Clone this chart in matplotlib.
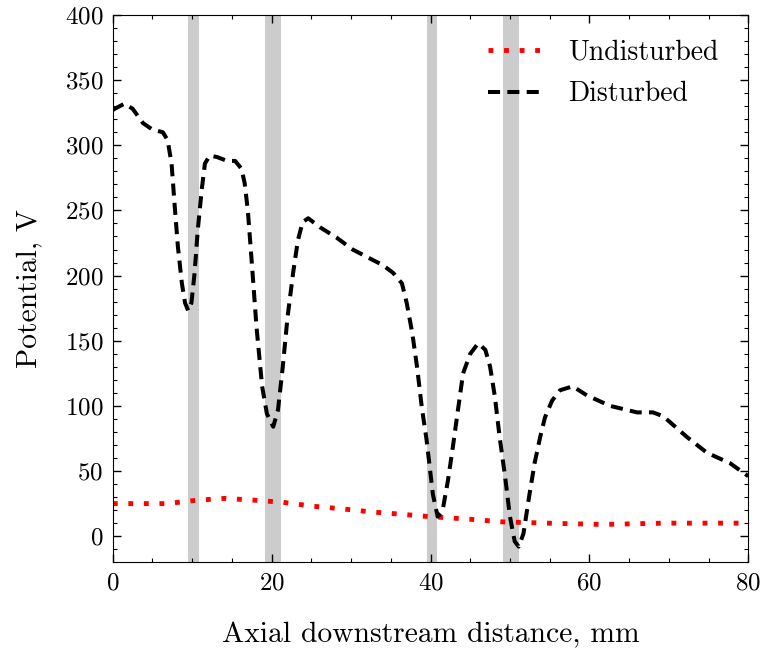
import numpy as np
import matplotlib.pyplot as plt
from matplotlib.ticker import MultipleLocator

plt.rcParams['font.family'] = 'cmr10'
plt.rcParams['mathtext.fontset'] = 'cm'
plt.rcParams['axes.formatter.use_mathtext'] = True

# disturbed potential profile
x_dist = [0, 0.25, 1.5, 2.5, 3.8, 5.0, 6.3, 6.9, 7.4, 7.8, 8.2, 8.7, 9.1, 9.5,
          9.9, 10.3, 10.7, 11.2, 11.6, 12.2, 13.1, 14.4, 15.4, 16.2, 16.6, 17.0,
          17.5, 18.1, 18.8, 19.4, 20.2, 20.8, 21.4, 22.0, 22.7, 23.3, 23.9, 24.6,
          26.1, 28.2, 30.2, 32.4, 34.0, 35.3, 36.4, 37.0, 37.7, 38.3, 38.9, 39.5,
          40.3, 40.9, 41.5, 42.2, 42.8, 43.5, 44.1, 45.0, 46.0, 46.9, 47.5, 48.1,
          48.7, 49.4, 50.0, 50.6, 51.1, 51.7, 52.4, 53.1, 53.8, 54.4, 55.3, 56.3,
          57.9, 59.7, 62.6, 66.0, 68.0, 69.3, 72.3, 74.8, 77.7, 80.0]
v_dist = [327, 328, 332, 328, 317, 312, 310, 304, 286, 253, 222, 194, 179, 173,
          179, 202, 235, 266, 286, 292, 291, 288, 288, 282, 271, 250,
          210, 160, 115, 94, 84, 97, 130, 168, 202, 227, 241, 244,
          237, 229, 220, 213, 208, 202, 194, 179, 156, 130, 99, 74,
          32, 15, 19, 43, 68, 99, 125, 140, 148, 143, 130, 107,
          76, 45, 15, -4, -8, 2, 30, 56, 76, 91, 104, 112,
          115, 108, 100, 95, 95, 92, 76, 64, 56, 46]

# undisturbed potential profile
x_und = [0, 1.1, 3.2, 6.8, 10.6, 14.1, 17.9, 21.4, 25.2, 28.8, 32.6, 36.0,
         39.9, 45.0, 49.0, 54.7, 61.7, 69.3, 78.6, 80.0]
v_und = [25, 25, 25, 25, 27.6, 29, 27.6, 26, 23, 21, 18.6, 17,
         15, 13, 11, 10, 9, 10, 10, 10]

# shaded electrode regions (start, end) in mm
bands = [(9.5, 10.8), (19.1, 21.2), (39.5, 40.8), (49.1, 51.1)]

fig, ax = plt.subplots(figsize=(7.62, 6.5), dpi=100)
fig.subplots_adjust(left=0.148, right=0.982, top=0.977, bottom=0.135)

for a, b in bands:
    ax.axvspan(a, b, color='#cccccc', lw=0, zorder=0)

ax.plot(x_und, v_und, color='red', ls=(0, (1, 2.2)), lw=3.5, label='Undisturbed')
ax.plot(x_dist, v_dist, color='black', ls=(0, (3.0, 1.8)), lw=2.9, label='Disturbed')

ax.set_xlim(0, 80)
ax.set_ylim(-20, 400)
ax.xaxis.set_major_locator(MultipleLocator(20))
ax.xaxis.set_minor_locator(MultipleLocator(5))
ax.yaxis.set_major_locator(MultipleLocator(50))
ax.yaxis.set_minor_locator(MultipleLocator(10))
ax.tick_params(which='both', direction='in', top=True, right=True, labelsize=18)
ax.tick_params(which='major', length=6, width=1, pad=7)
ax.tick_params(which='minor', length=3, width=0.8)

ax.set_xlabel('Axial downstream distance, mm', fontsize=21.3, labelpad=20)
ax.set_ylabel('Potential, V', fontsize=21.3, labelpad=16)

ax.legend(loc='upper right', bbox_to_anchor=(0.986, 0.994), frameon=False,
          fontsize=20, handlelength=2.1, handletextpad=0.8,
          borderaxespad=0.35, labelspacing=0.56)

fig.savefig('out.png')
